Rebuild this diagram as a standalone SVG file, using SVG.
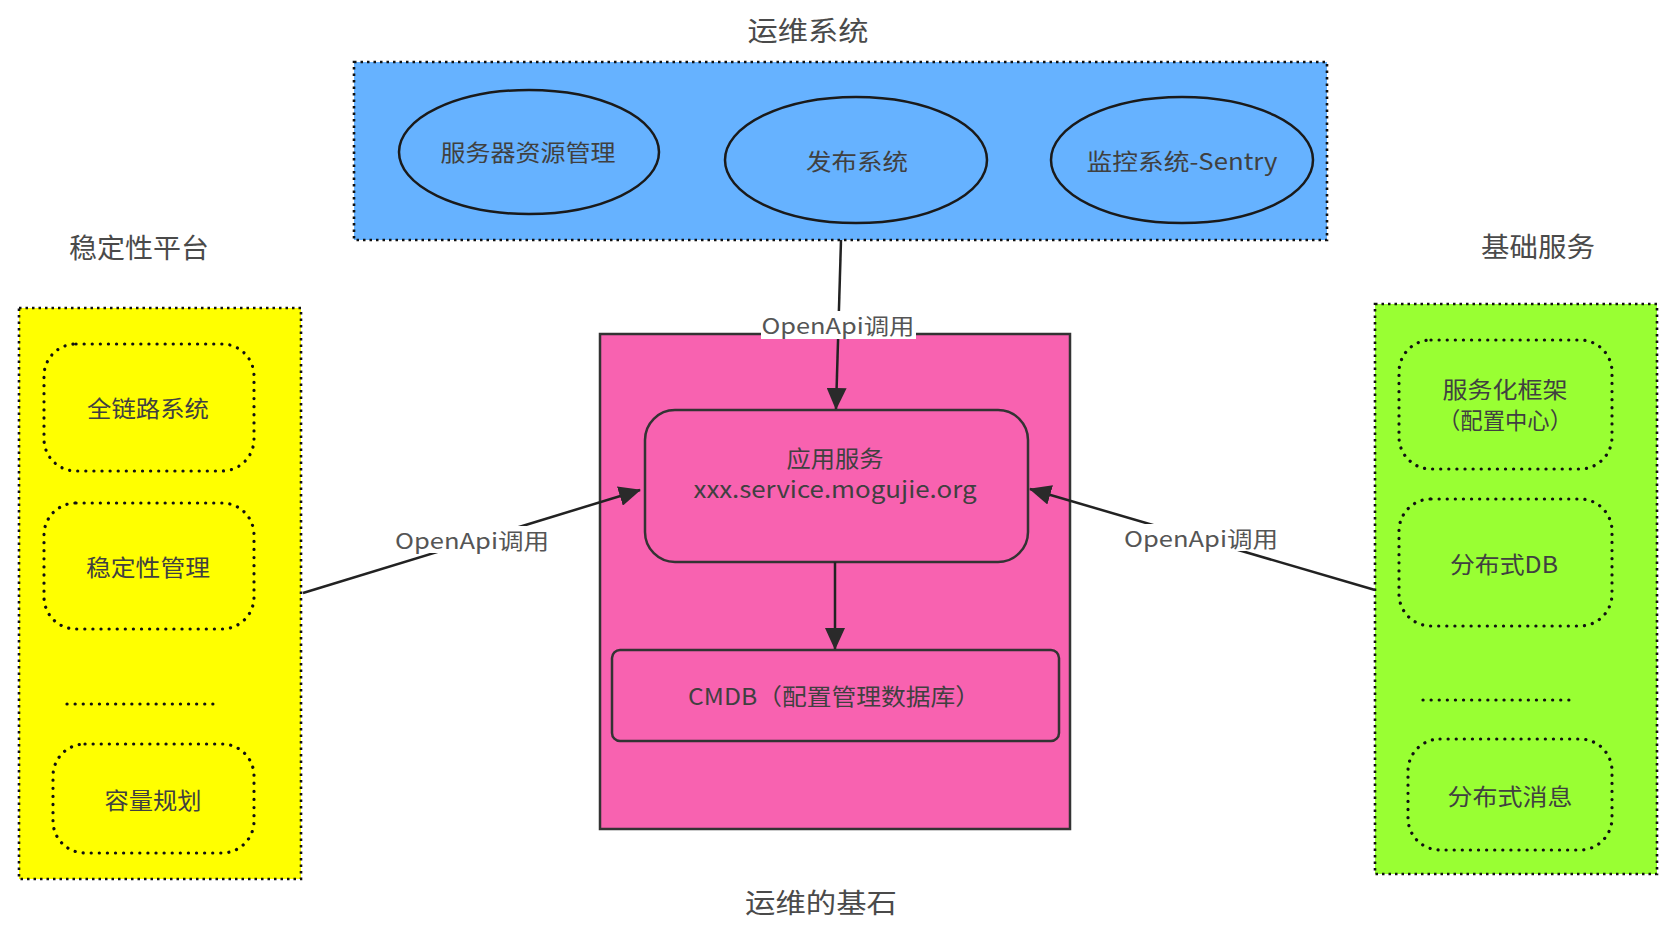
<svg xmlns="http://www.w3.org/2000/svg" width="1672" height="932" viewBox="0 0 1672 932">
<defs>
<style>
text{font-family:"Noto Sans CJK SC","Noto Sans",sans-serif;fill:#404040;text-anchor:middle;dominant-baseline:central;}
.title{font-size:27px;fill:#4a4a4a;}
.lbl{font-size:23px;}
.edge{font-size:22px;fill:#555;}
.outer{stroke:#111;stroke-width:2.6;stroke-dasharray:2.5 4;}
.inner{stroke:#111;stroke-width:3.2;stroke-dasharray:0.1 8;stroke-linecap:round;fill:none;}
.solid{stroke:#333;stroke-width:2.5;}
.conn{stroke:#222;stroke-width:2.5;fill:none;}
</style>
<marker id="arr" viewBox="0 0 22 20" refX="21" refY="10" markerWidth="22" markerHeight="20" markerUnits="userSpaceOnUse" orient="auto">
<path d="M0,0 L22,10 L0,20 Z" fill="#2a2a2a"/>
</marker>
</defs>
<rect width="1672" height="932" fill="#ffffff"/>

<g id="ops-system">
<text class="title" x="808" y="29" textLength="121" lengthAdjust="spacingAndGlyphs">运维系统</text>
<rect x="354" y="62" width="973" height="178" fill="#66B2FF" class="outer"/>
</g>
<g id="server-resource">
<ellipse cx="529" cy="152" rx="130" ry="62" fill="#66B2FF" stroke="#1a1a1a" stroke-width="2.5"/>
<text class="lbl" x="528" y="151" textLength="175" lengthAdjust="spacingAndGlyphs">服务器资源管理</text>
</g>
<g id="release-system">
<ellipse cx="856" cy="160" rx="131" ry="63" fill="#66B2FF" stroke="#1a1a1a" stroke-width="2.5"/>
<text class="lbl" x="857" y="160" textLength="102" lengthAdjust="spacingAndGlyphs">发布系统</text>
</g>
<g id="monitor-sentry">
<ellipse cx="1182" cy="160" rx="131" ry="63" fill="#66B2FF" stroke="#1a1a1a" stroke-width="2.5"/>
<text class="lbl" x="1182" y="160" textLength="191" lengthAdjust="spacingAndGlyphs">监控系统-Sentry</text>
</g>

<g id="stability-platform">
<text class="title" x="139" y="246" textLength="140" lengthAdjust="spacingAndGlyphs">稳定性平台</text>
<rect x="19" y="308" width="282" height="571" fill="#FFFF00" class="outer"/>
</g>
<g id="full-link">
<rect x="44" y="344" width="210" height="127" rx="32" ry="32" class="inner"/>
<text class="lbl" x="148" y="407" textLength="122" lengthAdjust="spacingAndGlyphs">全链路系统</text>
</g>
<g id="stability-mgmt">
<rect x="44" y="503" width="210" height="126" rx="32" ry="32" class="inner"/>
<text class="lbl" x="148" y="566" textLength="124" lengthAdjust="spacingAndGlyphs">稳定性管理</text>
</g>
<line x1="67" y1="704" x2="213" y2="704" class="inner"/>
<g id="capacity">
<rect x="53" y="744" width="201" height="109" rx="32" ry="32" class="inner"/>
<text class="lbl" x="153" y="799" textLength="97" lengthAdjust="spacingAndGlyphs">容量规划</text>
</g>

<g id="basic-services">
<text class="title" x="1538" y="245" textLength="114" lengthAdjust="spacingAndGlyphs">基础服务</text>
<rect x="1375" y="304" width="282" height="570" fill="#99FF33" class="outer"/>
</g>
<g id="service-framework">
<rect x="1399" y="340" width="213" height="129" rx="32" ry="32" class="inner"/>
<text class="lbl" x="1505" y="388" textLength="125" lengthAdjust="spacingAndGlyphs">服务化框架</text>
<text class="lbl" x="1505" y="419" textLength="134" lengthAdjust="spacingAndGlyphs">（配置中心）</text>
</g>
<g id="distributed-db">
<rect x="1399" y="499" width="213" height="127" rx="32" ry="32" class="inner"/>
<text class="lbl" x="1504" y="563" textLength="108" lengthAdjust="spacingAndGlyphs">分布式DB</text>
</g>
<line x1="1423" y1="700" x2="1569" y2="700" class="inner"/>
<g id="distributed-msg">
<rect x="1408" y="739" width="204" height="111" rx="32" ry="32" class="inner"/>
<text class="lbl" x="1510" y="795" textLength="125" lengthAdjust="spacingAndGlyphs">分布式消息</text>
</g>

<g id="ops-foundation">
<rect x="600" y="334" width="470" height="495" fill="#F862B0" class="solid"/>
<text class="title" x="821" y="901" textLength="152" lengthAdjust="spacingAndGlyphs">运维的基石</text>
</g>
<g id="app-service">
<rect x="645" y="410" width="383" height="152" rx="30" ry="30" fill="#F862B0" class="solid"/>
<text class="lbl" x="835" y="457" textLength="97" lengthAdjust="spacingAndGlyphs">应用服务</text>
<text class="lbl" x="835" y="488" textLength="283" lengthAdjust="spacingAndGlyphs">xxx.service.mogujie.org</text>
</g>
<g id="cmdb">
<rect x="612" y="650" width="447" height="91" rx="8" ry="8" fill="#F862B0" class="solid"/>
<text class="lbl" x="834" y="695" textLength="292" lengthAdjust="spacingAndGlyphs">CMDB（配置管理数据库）</text>
</g>

<g id="connectors">
<line x1="841" y1="240" x2="836" y2="409" class="conn" marker-end="url(#arr)"/>
<line x1="835" y1="562" x2="835" y2="649" class="conn" marker-end="url(#arr)"/>
<line x1="303" y1="593" x2="640" y2="490" class="conn" marker-end="url(#arr)"/>
<line x1="1375" y1="590" x2="1030" y2="489" class="conn" marker-end="url(#arr)"/>
<rect x="761" y="311" width="155" height="28" fill="#ffffff"/>
<text class="edge" x="838" y="324" textLength="153" lengthAdjust="spacingAndGlyphs">OpenApi调用</text>
<rect x="395" y="526" width="154" height="27" fill="#ffffff"/>
<text class="edge" x="472" y="539" textLength="154" lengthAdjust="spacingAndGlyphs">OpenApi调用</text>
<rect x="1124" y="524" width="154" height="27" fill="#ffffff"/>
<text class="edge" x="1201" y="537" textLength="154" lengthAdjust="spacingAndGlyphs">OpenApi调用</text>
</g>
</svg>
